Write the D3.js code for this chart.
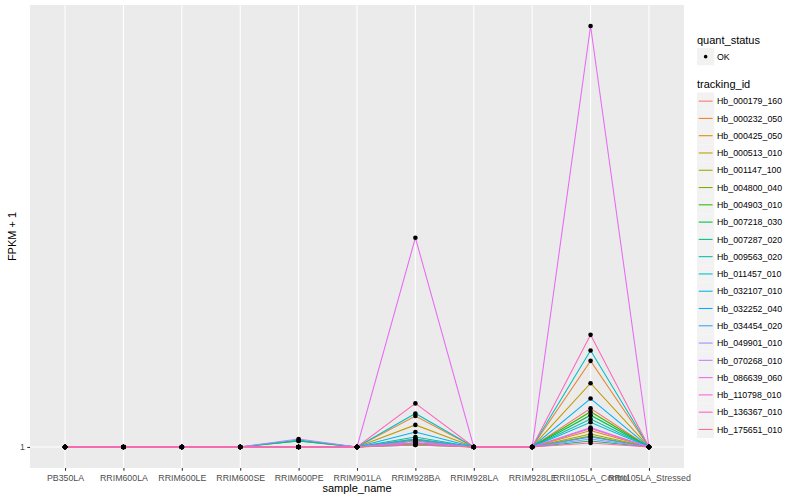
<!DOCTYPE html>
<html><head><meta charset="utf-8">
<script src="https://cdn.jsdelivr.net/npm/d3@7"></script>
<style>body{margin:0;background:#fff}svg{display:block}text{font-family:"Liberation Sans",Arial,sans-serif}</style>
</head><body><svg id="c" width="800" height="500"></svg>
<script>
const samples = ["PB350LA","RRIM600LA","RRIM600LE","RRIM600SE","RRIM600PE","RRIM901LA","RRIM928BA","RRIM928LA","RRIM928LE","RRII105LA_Control","RRII105LA_Stressed"];
const trackingIds = ["Hb_000179_160","Hb_000232_050","Hb_000425_050","Hb_000513_010","Hb_001147_100","Hb_004800_040","Hb_004903_010","Hb_007218_030","Hb_007287_020","Hb_009563_020","Hb_011457_010","Hb_032107_010","Hb_032252_040","Hb_034454_020","Hb_049901_010","Hb_070268_010","Hb_086639_060","Hb_110798_010","Hb_136367_010","Hb_175651_010"];
const colors = ["#F8766D","#EA8331","#D89000","#C09B00","#A3A500","#7CAE00","#39B600","#00BB4E","#00BF7D","#00C1A3","#00BFC4","#00BAE0","#00B0F6","#35A2FF","#9590FF","#C77CFF","#E76BF3","#FA62DB","#FF62BC","#FF6C90"];
// FPKM + 1 per tracking id, in sample order
const v_000179_160 = [1,1,1,1,1,1,1.04,1,1,1.21,1];
const v_000232_050 = [1,1,1,1,1,1,1.165,1,1,1.53,1];
const v_000425_050 = [1,1,1,1,1,1,1.02,1,1,1.085,1];
const v_000513_010 = [1,1,1,1,1,1,1.115,1,1,1.37,1];
const v_001147_100 = [1,1,1,1,1,1,1.02,1,1,1.066,1];
const v_004800_040 = [1,1,1,1,1,1,1.015,1,1,1.055,1];
const v_004903_010 = [1,1,1,1,1.03,1,1.035,1,1,1.19,1];
const v_007218_030 = [1,1,1,1,1,1,1.03,1,1,1.17,1];
const v_007287_020 = [1,1,1,1,1.03,1,1.01,1,1,1.03,1];
const v_009563_020 = [1,1,1,1,1,1,1.05,1,1,1.148,1];
const v_011457_010 = [1,1,1,1,1.035,1,1.18,1,1,1.61,1];
const v_032107_010 = [1,1,1,1,1,1,1.04,1,1,1.13,1];
const v_032252_040 = [1,1,1,1,1,1,1.077,1,1,1.27,1];
const v_034454_020 = [1,1,1,1,1,1,1.02,1,1,1.05,1];
const v_049901_010 = [1,1,1,1,1,1,1.02,1,1,1.04,1];
const v_070268_010 = [1,1,1,1,1.04,1,1.03,1,1,1.10,1];
const v_086639_060 = [1,1,1,1,1,1,2.81,1,1,8.0,1];
const v_110798_010 = [1,1,1,1,1,1,1.02,1,1,1.095,1];
const v_136367_010 = [1,1,1,1,1,1,1.24,1,1,1.74,1];
const v_175651_010 = [1,1,1,1,1,1,1.01,1,1,1.02,1];
const seriesValues = [v_000179_160,v_000232_050,v_000425_050,v_000513_010,v_001147_100,v_004800_040,v_004903_010,v_007218_030,v_007287_020,v_009563_020,v_011457_010,v_032107_010,v_032252_040,v_034454_020,v_049901_010,v_070268_010,v_086639_060,v_110798_010,v_136367_010,v_175651_010];
const yTicks = [1];
const quantStatus = ["OK"];

const svg = d3.select("#c");
const P = {l:30, t:5, r:684, b:468};
const x = d3.scalePoint().domain(samples).range([P.l, P.r]).padding(0.6);
const allV = seriesValues.flat();
const lmin = Math.log10(d3.min(allV)), lmax = Math.log10(d3.max(allV));
const span = lmax - lmin;
const y = d3.scaleLog().domain([Math.pow(10, lmin - 0.05*span), Math.pow(10, lmax + 0.05*span)]).range([P.b, P.t]);

svg.append("rect").attr("x",P.l).attr("y",P.t).attr("width",P.r-P.l).attr("height",P.b-P.t).attr("fill","#EBEBEB");
const g = svg.append("g");
g.selectAll("line.vx").data(samples).join("line").attr("x1",d=>x(d)).attr("x2",d=>x(d)).attr("y1",P.t).attr("y2",P.b).attr("stroke","#fff").attr("stroke-width",1.07);
g.selectAll("line.hy").data(yTicks).join("line").attr("x1",P.l).attr("x2",P.r).attr("y1",d=>y(d)).attr("y2",d=>y(d)).attr("stroke","#fff").attr("stroke-width",1.07);

const line = d3.line().x((d,i)=>x(samples[i])).y(d=>y(d));
g.selectAll("path.s").data(seriesValues).join("path").attr("fill","none").attr("stroke",(d,i)=>colors[i]).attr("stroke-width",1.07).attr("d",line);
seriesValues.forEach(vals=>{
  g.selectAll(null).data(vals).join("circle").attr("cx",(d,i)=>x(samples[i])).attr("cy",d=>y(d)).attr("r",2.3).attr("fill","#000");
});

// axes
const xa = svg.append("g").attr("transform",`translate(0,${P.b})`).call(d3.axisBottom(x).tickSize(2.7).tickSizeOuter(0));
xa.select(".domain").remove();
xa.selectAll(".tick line").attr("stroke","#333").attr("stroke-width",1.07);
xa.selectAll(".tick text").attr("fill","#4D4D4D").attr("font-size",8.8).attr("dy",0).attr("y",12.5).attr("font-family","Liberation Sans, Arial, sans-serif");
const ya = svg.append("g").attr("transform",`translate(${P.l},0)`).call(d3.axisLeft(y).tickValues(yTicks).tickFormat(d3.format("d")).tickSize(2.7).tickSizeOuter(0));
ya.select(".domain").remove();
ya.selectAll(".tick line").attr("stroke","#333").attr("stroke-width",1.07);
ya.selectAll(".tick text").attr("fill","#4D4D4D").attr("font-size",8.8).attr("x",-5).attr("font-family","Liberation Sans, Arial, sans-serif");

svg.append("text").attr("x",(P.l+P.r)/2).attr("y",492).attr("text-anchor","middle").attr("font-size",11).text("sample_name");
svg.append("text").attr("transform",`translate(16,${(P.t+P.b)/2}) rotate(-90)`).attr("text-anchor","middle").attr("font-size",11).text("FPKM + 1");

// legends
const L = svg.append("g");
L.append("text").attr("x",697).attr("y",44).attr("font-size",11).text("quant_status");
quantStatus.forEach((q,i)=>{
  L.append("rect").attr("x",697).attr("y",48+i*17.28).attr("width",17.28).attr("height",17.28).attr("fill","#F2F2F2");
  L.append("circle").attr("cx",697+8.64).attr("cy",48+8.64+i*17.28).attr("r",1.8).attr("fill","#000");
  L.append("text").attr("x",717).attr("y",48+8.64+3.2+i*17.28).attr("font-size",8.8).text(q);
});
L.append("text").attr("x",697).attr("y",88).attr("font-size",11).text("tracking_id");
trackingIds.forEach((id,i)=>{
  const ky = 92.5 + i*17.28;
  L.append("rect").attr("x",697).attr("y",ky).attr("width",17.28).attr("height",17.28).attr("fill","#F2F2F2");
  L.append("line").attr("x1",698.7).attr("x2",712.6).attr("y1",ky+8.64).attr("y2",ky+8.64).attr("stroke",colors[i]).attr("stroke-width",1.07);
  L.append("text").attr("x",717).attr("y",ky+8.64+3.2).attr("font-size",8.8).attr("fill","#000").text(id);
});
</script></body></html>
